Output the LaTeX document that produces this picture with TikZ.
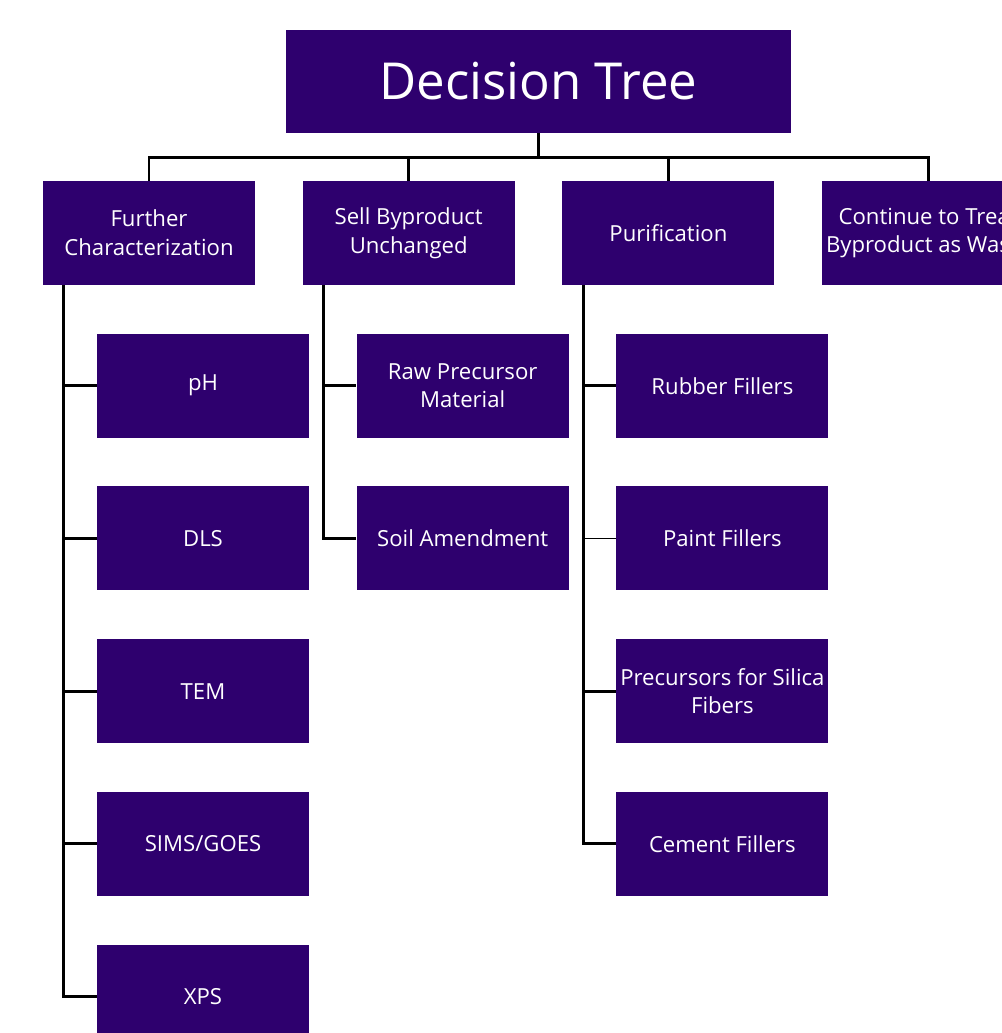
\documentclass[tikz,border=0pt]{standalone}
\usepackage{fontspec}
\setmainfont{Open Sans}
\usetikzlibrary{positioning}
\usepackage{xcolor}
\definecolor{treepurple}{RGB}{46,0,110}

\begin{document}
\begin{tikzpicture}[
    box/.style={fill=treepurple, text=white, minimum width=4.24cm, minimum height=2.08cm,
        align=center, inner sep=0pt, font=\fontsize{12.6}{16.4}\selectfont},
    headbox/.style={box, minimum width=10.1cm, minimum height=2.06cm, font=\fontsize{29}{34}\selectfont},
    link/.style={line width=1.7pt},
    node distance=0.96cm
]
    \useasboundingbox (0,0) rectangle (20.04,-20.66);
    \clip (0,0) rectangle (20.04,-20.66);

    \node[headbox] (root) at (10.77,-1.63) {Decision Tree};
    \coordinate[below=0.48cm of root] (bus);

    \node[box] (char) at (2.98,-4.66) {Further\\Characterization};
    \node[box, right=0.94cm of char] (sell) {Sell Byproduct\\Unchanged};
    \node[box, right=0.94cm of sell] (purif) {Purification};
    \node[box, right=0.94cm of purif] (waste) {Continue to Treat\\Byproduct as Waste};

    \node[box, below=of char, xshift=1.08cm] (ph) {pH};
    \node[box, below=of ph] (dls) {DLS};
    \node[box, below=of dls] (tem) {TEM};
    \node[box, below=of tem] (sims) {SIMS/GOES};
    \node[box, below=of sims] (xps) {XPS};

    \node[box, below=of sell, xshift=1.08cm] (raw) {Raw Precursor\\Material};
    \node[box, below=of raw] (soil) {Soil Amendment};

    \node[box, below=of purif, xshift=1.08cm] (rubber) {Rubber Fillers};
    \node[box, below=of rubber] (paint) {Paint Fillers};
    \node[box, below=of paint] (silica) {Precursors for Silica\\Fibers};
    \node[box, below=of silica] (cement) {Cement Fillers};

    \draw[link] (root.south) -- (bus);
    \foreach \branch in {char,sell,purif,waste}
        \draw[link] (bus) -| (\branch.north);

    \coordinate (charspine) at ([xshift=0.42cm]char.south west);
    \coordinate (sellspine) at ([xshift=0.42cm]sell.south west);
    \coordinate (purifspine) at ([xshift=0.42cm]purif.south west);

    \foreach \leaf in {ph,dls,tem,sims,xps}
        \draw[link] (charspine) |- (\leaf.west);
    \foreach \leaf in {raw,soil}
        \draw[link] (sellspine) |- (\leaf.west);
    \foreach \leaf in {rubber,silica,cement}
        \draw[link] (purifspine) |- (\leaf.west);
    \draw[line width=0.8pt] (purifspine) |- (paint.west);
\end{tikzpicture}
\end{document}
